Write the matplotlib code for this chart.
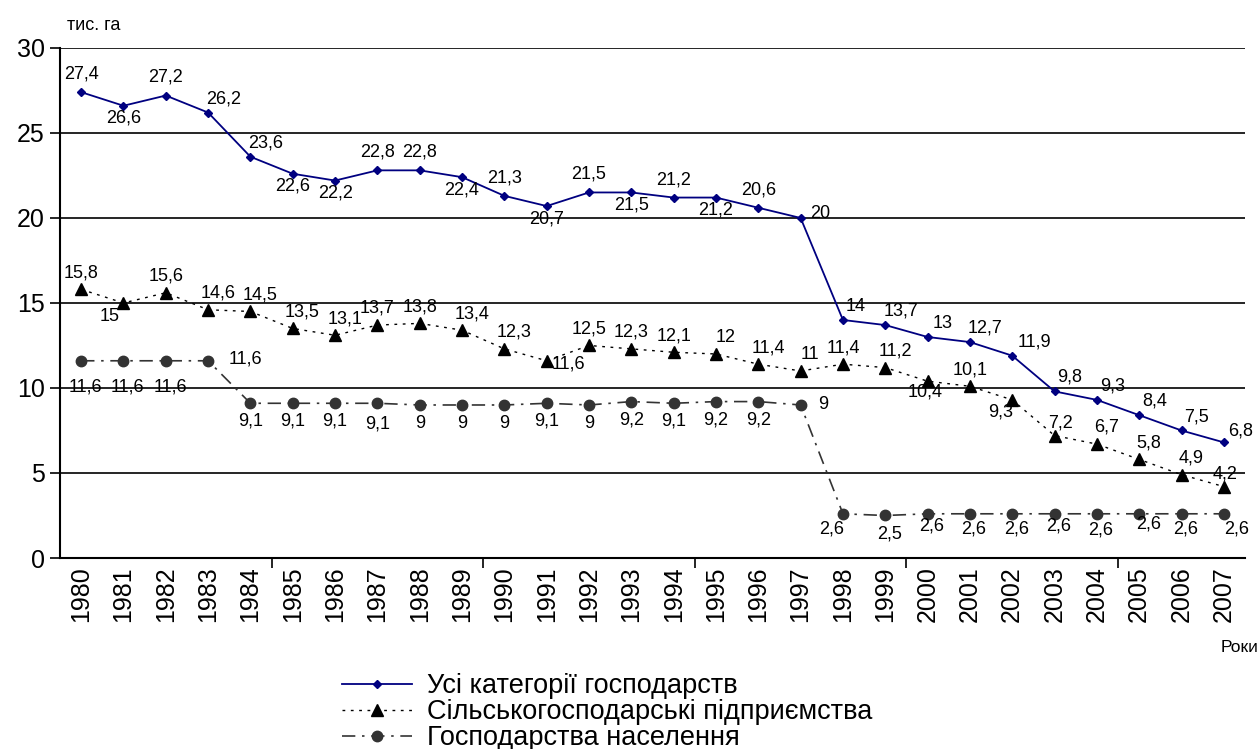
import matplotlib.pyplot as plt
from matplotlib.ticker import FixedLocator

plt.rcParams['font.family'] = ['Liberation Sans', 'DejaVu Sans']

years = list(range(1980, 2008))
all_farms = [27.4, 26.6, 27.2, 26.2, 23.6, 22.6, 22.2, 22.8, 22.8, 22.4, 21.3, 20.7, 21.5, 21.5,
             21.2, 21.2, 20.6, 20, 14, 13.7, 13, 12.7, 11.9, 9.8, 9.3, 8.4, 7.5, 6.8]
agri = [15.8, 15, 15.6, 14.6, 14.5, 13.5, 13.1, 13.7, 13.8, 13.4, 12.3, 11.6, 12.5, 12.3,
        12.1, 12, 11.4, 11, 11.4, 11.2, 10.4, 10.1, 9.3, 7.2, 6.7, 5.8, 4.9, 4.2]
households = [11.6, 11.6, 11.6, 11.6, 9.1, 9.1, 9.1, 9.1, 9, 9, 9, 9.1, 9, 9.2,
              9.1, 9.2, 9.2, 9, 2.6, 2.5, 2.6, 2.6, 2.6, 2.6, 2.6, 2.6, 2.6, 2.6]
names = ["Усі категорії господарств", "Сільськогосподарські підприємства", "Господарства населення"]

# label placement per point (offset in points)
A = (0, 13)
B = (0, -9)
AR = (11, 10)
pos_all = [A, B, A, AR, AR, B, B, A, A, B, A, B, A, B, A, B, A, (14, 3), (9, 10), AR, AR, AR,
           (16, 10), AR, AR, AR, AR, (12, 8)]
A2, AR2 = (0, 12), (7, 12)
pos_agri = [A2, (-10, -10), A2, AR2, AR2, AR2, AR2, A2, A2, AR2, AR2, (16, -2), A2, A2, A2, AR2, AR2,
            AR2, A2, AR2, (-2, -8), A2, (-8, -9), (4, 9), AR2, AR2, AR2, (1, 9)]
B3 = (0, -13)
pos_hh = [(3, -19), (3, -19), (3, -19), (27, 1), B3, B3, B3, (0, -15), B3, B3, B3, B3, B3, B3, B3,
          B3, B3, (16, 0), (-8, -11), (3, -13), (3, -9), (3, -11), (3, -11), (3, -9), (3, -12),
          (7, -7), (3, -11), (9, -11)]

fig = plt.figure(figsize=(12.6, 7.49), dpi=100)
ax = fig.add_axes([0.0476, 0.255, 0.9405, 0.681])

x = list(range(len(years)))
l1, = ax.plot(x, all_farms, color='#000080', lw=1.3, marker='D', ms=4, zorder=4)
l2, = ax.plot(x, agri, color='black', lw=1, ls=(0, (2, 4)), marker='^', ms=9, zorder=3)
l3, = ax.plot(x, households, color='#333333', lw=1.2, ls=(0, (8, 4, 1.5, 4)), marker='o', ms=7.5,
              markeredgecolor='#333333', zorder=3)

def fmt(v):
    return f"{v:g}".replace('.', ',')

for ys, ps in [(all_farms, pos_all), (agri, pos_agri), (households, pos_hh)]:
    for i, (v, p) in enumerate(zip(ys, ps)):
        ax.annotate(fmt(v), (i, v), xytext=p, textcoords='offset points', ha='center', va='center',
                    fontsize=13, zorder=5)

ax.set_xlim(-0.5, len(years) - 0.5)
ax.set_ylim(0, 30)
ax.set_yticks(range(0, 31, 5))
ax.yaxis.grid(True, color='black', lw=1.2)
ax.set_axisbelow(True)
ax.tick_params(axis='y', labelsize=18, length=7, width=1.2, pad=4)
ax.set_xticks(x)
ax.set_xticklabels([str(y) for y in years], rotation=90, fontsize=18)
ax.tick_params(axis='x', length=0, pad=6)
ax.xaxis.set_minor_locator(FixedLocator([4.5, 9.5, 14.5, 19.5, 24.5]))
ax.tick_params(axis='x', which='minor', length=7, width=1.2, direction='out')
for s in ['top', 'right']:
    ax.spines[s].set_visible(False)
for s in ['left', 'bottom']:
    ax.spines[s].set_linewidth(1.5)

fig.text(0.053, 0.955, "тис. га", fontsize=13, ha='left', va='bottom')
fig.text(0.999, 0.135, "Роки", fontsize=12.5, ha='right', va='center')

fig.legend([l1, l2, l3], names, loc='center', bbox_to_anchor=(0.482, 0.049), frameon=False,
           fontsize=19.5, handlelength=2.6, handletextpad=0.55, labelspacing=0.0, borderpad=0)

fig.savefig('out.png', dpi=100)
